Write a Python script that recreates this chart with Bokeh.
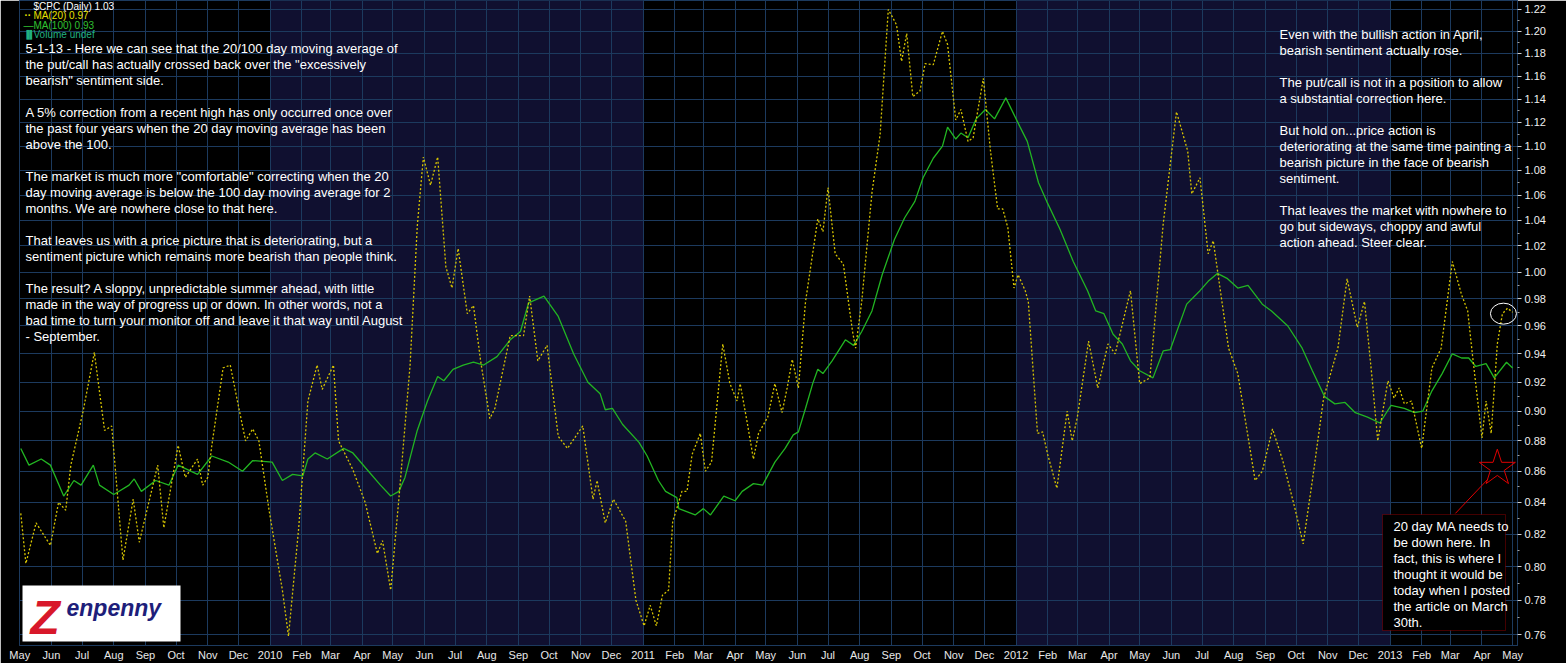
from datetime import datetime
import pandas as pd
from bokeh.plotting import figure
from bokeh.models import (FixedTicker, PrintfTickFormatter, CustomJSTickFormatter,
                          BoxAnnotation, Label, Range1d)
from bokeh.embed import file_html
from bokeh.resources import INLINE

# ---------------- data ----------------
ma20_dates = [
    "2009-05-02", "2009-05-07", "2009-05-17", "2009-05-31", "2009-06-08", "2009-06-15", "2009-06-20",
    "2009-07-02", "2009-07-13", "2009-07-23", "2009-07-30", "2009-08-10", "2009-08-20", "2009-08-26",
    "2009-09-13", "2009-09-19", "2009-10-03", "2009-10-10", "2009-10-22", "2009-10-27", "2009-11-01",
    "2009-11-05", "2009-11-16", "2009-11-23", "2009-11-30", "2009-12-08", "2009-12-15", "2009-12-21",
    "2009-12-31", "2010-01-13", "2010-01-19", "2010-01-29", "2010-02-07", "2010-02-16", "2010-02-21",
    "2010-03-04", "2010-03-09", "2010-03-23", "2010-04-04", "2010-04-16", "2010-04-21", "2010-04-29",
    "2010-05-07", "2010-05-18", "2010-05-25", "2010-05-31", "2010-06-07", "2010-06-14", "2010-06-22",
    "2010-06-28", "2010-07-04", "2010-07-13", "2010-07-19", "2010-07-26", "2010-08-04", "2010-08-09",
    "2010-08-24", "2010-09-06", "2010-09-12", "2010-09-20", "2010-09-29", "2010-10-10", "2010-10-19",
    "2010-11-03", "2010-11-13", "2010-11-17", "2010-11-25", "2010-12-03", "2010-12-15", "2010-12-25",
    "2011-01-02", "2011-01-08", "2011-01-14", "2011-01-20", "2011-01-26", "2011-01-30", "2011-02-03",
    "2011-02-08", "2011-02-13", "2011-02-18", "2011-02-26", "2011-03-03", "2011-03-09", "2011-03-20",
    "2011-03-27", "2011-04-03", "2011-04-06", "2011-04-13", "2011-04-19", "2011-04-24", "2011-05-03",
    "2011-05-10", "2011-05-17", "2011-05-22", "2011-05-27", "2011-06-02", "2011-06-09", "2011-06-21",
    "2011-06-26", "2011-07-01", "2011-07-08", "2011-07-16", "2011-07-25", "2011-07-28", "2011-08-03",
    "2011-08-13", "2011-08-21", "2011-08-29", "2011-09-06", "2011-09-11", "2011-09-16", "2011-09-22",
    "2011-09-29", "2011-10-04", "2011-10-12", "2011-10-21", "2011-10-26", "2011-11-03", "2011-11-08",
    "2011-11-15", "2011-11-20", "2011-11-30", "2011-12-07", "2011-12-14", "2011-12-19", "2011-12-24",
    "2011-12-30", "2012-01-03", "2012-01-10", "2012-01-13", "2012-01-22", "2012-01-27", "2012-02-01",
    "2012-02-10", "2012-02-20", "2012-02-25", "2012-03-01", "2012-03-12", "2012-03-21", "2012-03-31",
    "2012-04-07", "2012-04-22", "2012-05-01", "2012-05-11", "2012-05-24", "2012-06-06", "2012-06-17",
    "2012-06-21", "2012-06-29", "2012-07-07", "2012-07-12", "2012-07-27", "2012-08-05", "2012-08-22",
    "2012-08-29", "2012-09-08", "2012-09-18", "2012-09-30", "2012-10-08", "2012-10-17", "2012-10-28",
    "2012-11-11", "2012-11-20", "2012-11-30", "2012-12-07", "2012-12-14", "2012-12-20", "2012-12-30",
    "2013-01-05", "2013-01-10", "2013-01-15", "2013-01-22", "2013-02-01", "2013-02-11", "2013-02-20",
    "2013-03-03", "2013-03-12", "2013-03-18", "2013-03-23", "2013-04-01", "2013-04-05", "2013-04-10",
    "2013-04-16", "2013-04-21", "2013-04-26", "2013-05-01",
]
ma20_values = [
    0.833, 0.802, 0.827, 0.813, 0.840, 0.835, 0.864,
    0.900, 0.941, 0.887, 0.890, 0.804, 0.842, 0.815,
    0.864, 0.824, 0.877, 0.856, 0.868, 0.851, 0.856,
    0.877, 0.930, 0.932, 0.907, 0.880, 0.888, 0.880,
    0.835, 0.786, 0.759, 0.824, 0.907, 0.932, 0.915,
    0.932, 0.880, 0.861, 0.840, 0.808, 0.816, 0.786,
    0.842, 0.932, 1.035, 1.091, 1.068, 1.091, 1.004,
    0.988, 1.018, 0.969, 0.975, 0.935, 0.895, 0.902,
    0.953, 0.953, 0.982, 0.935, 0.946, 0.883, 0.875,
    0.890, 0.842, 0.854, 0.827, 0.842, 0.828, 0.780,
    0.765, 0.777, 0.765, 0.783, 0.786, 0.828, 0.836,
    0.847, 0.847, 0.871, 0.885, 0.860, 0.866, 0.947,
    0.919, 0.907, 0.919, 0.892, 0.868, 0.885, 0.896,
    0.919, 0.899, 0.916, 0.936, 0.916, 0.978, 1.041,
    1.031, 1.066, 1.014, 1.006, 0.956, 0.944, 0.978,
    1.062, 1.110, 1.220, 1.206, 1.173, 1.198, 1.142,
    1.147, 1.171, 1.170, 1.200, 1.188, 1.122, 1.131,
    1.104, 1.107, 1.158, 1.096, 1.049, 1.049, 1.034,
    0.988, 0.998, 0.986, 0.978, 0.885, 0.886, 0.871,
    0.849, 0.900, 0.880, 0.896, 0.949, 0.916, 0.947,
    0.940, 0.986, 0.919, 0.923, 1.037, 1.129, 1.096,
    1.061, 1.074, 1.014, 1.024, 0.944, 0.926, 0.854,
    0.860, 0.888, 0.867, 0.836, 0.814, 0.854, 0.909,
    0.944, 0.995, 0.959, 0.978, 0.926, 0.880, 0.921,
    0.909, 0.916, 0.905, 0.907, 0.875, 0.930, 0.944,
    1.008, 0.983, 0.971, 0.937, 0.882, 0.907, 0.885,
    0.947, 0.969, 0.973, 0.970,
]

ma100_dates = [
    "2009-05-02", "2009-05-10", "2009-05-22", "2009-05-31", "2009-06-13", "2009-06-23", "2009-06-30",
    "2009-07-12", "2009-07-18", "2009-08-01", "2009-08-16", "2009-08-21", "2009-08-28", "2009-09-11",
    "2009-09-24", "2009-10-03", "2009-10-22", "2009-11-05", "2009-11-21", "2009-12-05", "2009-12-15",
    "2010-01-03", "2010-01-13", "2010-01-23", "2010-02-02", "2010-02-07", "2010-02-14", "2010-02-26",
    "2010-03-14", "2010-03-23", "2010-04-06", "2010-04-19", "2010-04-29", "2010-05-07", "2010-05-13",
    "2010-05-25", "2010-06-04", "2010-06-14", "2010-06-20", "2010-06-29", "2010-07-09", "2010-07-19",
    "2010-07-29", "2010-08-11", "2010-08-24", "2010-09-03", "2010-09-11", "2010-09-26", "2010-10-10",
    "2010-10-25", "2010-11-08", "2010-11-20", "2010-11-25", "2010-12-02", "2010-12-12", "2010-12-28",
    "2011-01-05", "2011-01-16", "2011-01-23", "2011-02-03", "2011-02-05", "2011-02-21", "2011-03-01",
    "2011-03-08", "2011-03-21", "2011-04-01", "2011-04-08", "2011-04-19", "2011-04-28", "2011-05-10",
    "2011-05-20", "2011-05-28", "2011-06-02", "2011-06-09", "2011-06-16", "2011-06-21", "2011-06-26",
    "2011-07-05", "2011-07-18", "2011-07-26", "2011-08-03", "2011-08-13", "2011-08-23", "2011-09-04",
    "2011-09-14", "2011-09-24", "2011-10-02", "2011-10-12", "2011-10-21", "2011-10-26", "2011-11-03",
    "2011-11-08", "2011-11-15", "2011-11-23", "2011-12-02", "2011-12-11", "2011-12-22", "2012-01-05",
    "2012-01-12", "2012-01-23", "2012-01-31", "2012-02-13", "2012-02-26", "2012-03-11", "2012-03-19",
    "2012-03-27", "2012-04-05", "2012-04-14", "2012-04-22", "2012-05-01", "2012-05-14", "2012-05-24",
    "2012-05-31", "2012-06-16", "2012-06-29", "2012-07-07", "2012-07-16", "2012-07-26", "2012-08-05",
    "2012-08-15", "2012-08-29", "2012-09-07", "2012-09-23", "2012-10-07", "2012-10-17", "2012-10-29",
    "2012-11-08", "2012-11-18", "2012-11-28", "2012-12-10", "2012-12-22", "2013-01-02", "2013-01-15",
    "2013-01-25", "2013-02-02", "2013-02-11", "2013-02-21", "2013-03-03", "2013-03-12", "2013-03-19",
    "2013-03-26", "2013-04-05", "2013-04-13", "2013-04-25", "2013-05-01",
]
ma100_values = [
    0.875, 0.864, 0.868, 0.864, 0.844, 0.854, 0.851,
    0.864, 0.851, 0.845, 0.851, 0.855, 0.847, 0.854,
    0.851, 0.864, 0.858, 0.870, 0.866, 0.860, 0.867,
    0.866, 0.854, 0.858, 0.857, 0.868, 0.872, 0.868,
    0.875, 0.872, 0.861, 0.851, 0.844, 0.847, 0.856,
    0.887, 0.907, 0.924, 0.921, 0.929, 0.932, 0.934,
    0.932, 0.938, 0.950, 0.956, 0.977, 0.982, 0.967,
    0.940, 0.920, 0.912, 0.901, 0.902, 0.891, 0.879,
    0.870, 0.854, 0.847, 0.843, 0.836, 0.832, 0.836,
    0.832, 0.844, 0.841, 0.847, 0.852, 0.851, 0.866,
    0.875, 0.884, 0.886, 0.902, 0.919, 0.929, 0.926,
    0.935, 0.950, 0.946, 0.956, 0.971, 0.998, 1.025,
    1.042, 1.055, 1.074, 1.090, 1.100, 1.116, 1.106,
    1.111, 1.107, 1.123, 1.131, 1.123, 1.141, 1.116,
    1.104, 1.070, 1.055, 1.033, 1.008, 0.986, 0.971,
    0.969, 0.954, 0.947, 0.935, 0.928, 0.923, 0.942,
    0.943, 0.976, 0.986, 0.993, 0.999, 0.995, 0.988,
    0.990, 0.976, 0.971, 0.960, 0.944, 0.928, 0.910,
    0.905, 0.906, 0.899, 0.896, 0.892, 0.904, 0.902,
    0.899, 0.900, 0.914, 0.926, 0.940, 0.937, 0.937,
    0.931, 0.933, 0.923, 0.934, 0.930,
]

y_ticks = [0.76, 0.78, 0.80, 0.82, 0.84, 0.86, 0.88, 0.90, 0.92, 0.94, 0.96, 0.98,
           1.00, 1.02, 1.04, 1.06, 1.08, 1.10, 1.12, 1.14, 1.16, 1.18, 1.20, 1.22]
y_minor = [0.77, 0.79, 0.81, 0.83, 0.85, 0.87, 0.89, 0.91, 0.93, 0.95, 0.97, 0.99,
           1.01, 1.03, 1.05, 1.07, 1.09, 1.11, 1.13, 1.15, 1.17, 1.19, 1.21]
month_names = ["Jan", "Feb", "Mar", "Apr", "May", "Jun", "Jul", "Aug", "Sep", "Oct", "Nov", "Dec"]
shaded_years = [2010, 2012]

star_date, star_value = "2013-04-16", 0.862
pointer_from = ("2013-03-06", 0.833)
pointer_to = ("2013-04-07", 0.855)
circle_date, circle_value = "2013-04-22", 0.969

left_text = [
    "5-1-13 - Here we can see that the 20/100 day moving average of",
    "the put/call has actually crossed back over the \"excessively",
    "bearish\" sentiment side.",
    "",
    "A 5% correction from a recent high has only occurred once over",
    "the past four years when the 20 day moving average has been",
    "above the 100.",
    "",
    "The market is much more \"comfortable\" correcting when the 20",
    "day moving average is below the 100 day moving average for 2",
    "months.  We are nowhere close to that here.",
    "",
    "That leaves us with a price picture that is deteriorating, but a",
    "sentiment picture which remains more bearish than people think.",
    "",
    "The result? A sloppy, unpredictable summer ahead, with little",
    "made in the way of progress up or down. In other words, not a",
    "bad time to turn your monitor off and leave it that way until August",
    "- September.",
]
right_text = [
    "Even with the bullish action in April,",
    "bearish sentiment actually rose.",
    "",
    "The put/call is not in a position to allow",
    "a substantial correction here.",
    "",
    "But hold on...price action is",
    "deteriorating at the same time painting a",
    "bearish picture in the face of bearish",
    "sentiment.",
    "",
    "That leaves the market with nowhere to",
    "go but sideways, choppy and awful",
    "action ahead. Steer clear.",
]
box_text = [
    "20 day MA needs to",
    "be down here. In",
    "fact, this is where I",
    "thought it would be",
    "today when I posted",
    "the article on March",
    "30th.",
]

# ---------------- figure ----------------
FL, FW, FH = 19, 1498, 645   # frame left, frame width, frame height (page px)
GRID = "#1c3a5e"
FONT = "Liberation Sans"

p = figure(frame_width=FW, frame_height=FH, x_axis_type="datetime", y_axis_type="log",
           x_range=Range1d(datetime(2009, 4, 30, 18), datetime(2013, 5, 5, 18)),
           y_range=Range1d(0.7537, 1.2283), y_axis_location="right",
           output_backend="svg", toolbar_location=None,
           min_border_left=FL, min_border_right=1566 - FL - FW, min_border_top=0,
           min_border_bottom=663 - FH,
           background_fill_color="black", border_fill_color="black")
p.outline_line_color = GRID

month_starts = pd.date_range("2009-05-01", "2013-05-01", freq="MS")
ticks_ms = [int(t.value // 10**6) for t in month_starts]
p.xaxis.ticker = FixedTicker(ticks=ticks_ms)
p.xgrid.ticker = FixedTicker(ticks=ticks_ms)
p.xaxis.formatter = CustomJSTickFormatter(args=dict(names=month_names), code="""
const d = new Date(tick);
const m = d.getUTCMonth();
return m == 0 ? String(d.getUTCFullYear()) : names[m];
""")
p.xaxis.major_label_text_color = "#e8e8e8"
p.xaxis.major_label_text_font = FONT
p.xaxis.major_label_text_font_size = "11px"
p.xaxis.major_label_standoff = 3
p.xaxis.major_tick_out = 0
p.xaxis.major_tick_in = 0
p.xaxis.minor_tick_out = 0
p.xaxis.axis_line_color = GRID

p.yaxis.ticker = FixedTicker(ticks=y_ticks, minor_ticks=y_minor)
p.ygrid.ticker = FixedTicker(ticks=y_ticks)
p.yaxis.formatter = PrintfTickFormatter(format="%.2f")
p.yaxis.major_label_text_color = "#f0f0f0"
p.yaxis.major_label_text_font = FONT
p.yaxis.major_label_text_font_size = "11px"
p.yaxis.major_label_standoff = 3
p.yaxis.major_tick_out = 4
p.yaxis.major_tick_in = 0
p.yaxis.minor_tick_out = 2
p.yaxis.minor_tick_in = 0
p.yaxis.axis_line_color = GRID
p.yaxis.major_tick_line_color = "#d0d0d0"
p.yaxis.minor_tick_line_color = "#a0a0a0"

for g in (p.xgrid, p.ygrid):
    g.grid_line_color = GRID
    g.grid_line_width = 1

for yr in shaded_years:
    p.add_layout(BoxAnnotation(left=datetime(yr, 1, 1), right=datetime(yr + 1, 1, 1),
                               fill_color="#101030", fill_alpha=1.0, line_alpha=0,
                               level="image"))

ma20_x = pd.to_datetime(ma20_dates)
ma100_x = pd.to_datetime(ma100_dates)
p.line(ma100_x, ma100_values, line_color="#22b522", line_width=1.3)
p.line(ma20_x, ma20_values, line_color="#d6c400", line_width=1.3, line_dash="2 2")

# annotations: star, pointer, circle
p.scatter(x=[pd.Timestamp(star_date)], y=[star_value], marker="star", size=38,
          line_color="#e00000", fill_alpha=0, line_width=1)
p.segment(x0=[pd.Timestamp(pointer_from[0])], y0=[pointer_from[1]],
          x1=[pd.Timestamp(pointer_to[0])], y1=[pointer_to[1]],
          line_color="#e00000", line_width=1)
p.ellipse(x=[pd.Timestamp(circle_date)], y=[circle_value], width=26, height=21,
          width_units="screen", height_units="screen", fill_alpha=0,
          line_color="white", line_width=1)


# ------------- helpers for text (page px -> frame screen units) -------------
def lab(px, py, text, color="white", size="13px", style="normal", font=FONT, **kw):
    p.add_layout(Label(x=px - FL, y=FH - py, x_units="screen", y_units="screen",
                       text=text, text_color=color, text_font_size=size,
                       text_font_style=style, text_font=font, text_baseline="middle",
                       **kw))


for i, line in enumerate(left_text):
    if line:
        lab(25, 48 + 16 * i, line)
for i, line in enumerate(right_text):
    if line:
        lab(1279, 34 + 16 * i, line)

# legend block
lab(33, 6, "$CPC (Daily) 1.03", size="10px")
lab(24, 15, "\u00b7\u00b7", color="#e8e000", size="10px", style="bold")
lab(33, 15, "MA(20) 0.97", color="#e8e000", size="10px")
lab(23, 25, "\u2014", color="#30c030", size="10px")
lab(33, 25, "MA(100) 0.93", color="#30c030", size="10px")
lab(23, 34, "\u2590\u258c", color="#20b080", size="8px")
lab(33, 34, "Volume undef", color="#20b080", size="10px")

# red comment box
p.add_layout(BoxAnnotation(left=1382 - FL, right=1505 - FL, top=FH - 514, bottom=FH - 630,
                           left_units="screen", right_units="screen",
                           top_units="screen", bottom_units="screen",
                           fill_color="black", fill_alpha=1, line_color="#e00000",
                           line_width=1))
for i, line in enumerate(box_text):
    lab(1393, 526 + 16 * i, line)

# logo
p.add_layout(BoxAnnotation(left=22 - FL, right=180 - FL, top=FH - 585, bottom=FH - 641,
                           left_units="screen", right_units="screen",
                           top_units="screen", bottom_units="screen",
                           fill_color="white", fill_alpha=1, line_alpha=0))
lab(30, 617, "Z", color="#d8182a", size="48px", style="bold italic")
lab(66, 607, "enpenny", color="#1e1e7a", size="23px", style="bold italic")

open("out.html", "w").write(file_html(p, INLINE))
